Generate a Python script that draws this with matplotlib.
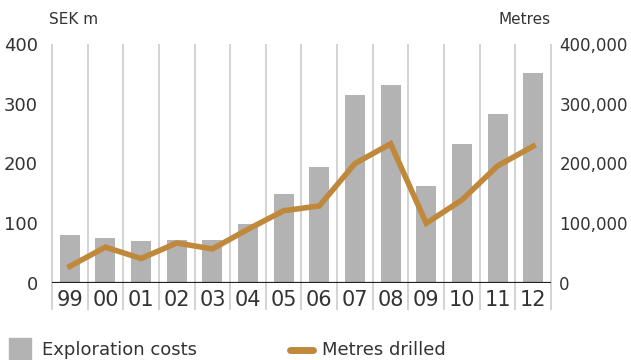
import matplotlib
matplotlib.use("Agg")
import numpy as np
import matplotlib.pyplot as plt
from matplotlib.patches import Rectangle
from matplotlib.lines import Line2D
from matplotlib.ticker import FuncFormatter

# data
years = ["99", "00", "01", "02", "03", "04", "05", "06", "07", "08", "09", "10", "11", "12"]
exploration_costs = [80, 75, 70, 72, 72, 99, 149, 194, 315, 331, 162, 233, 283, 351]
metres_drilled = [28000, 60000, 41000, 67000, 57000, 90000, 121000, 129000,
                  200000, 233000, 100000, 139000, 196000, 229000]

BAR = "#b3b3b3"
LINE = "#c0883a"
TXT = "#333333"
SEP = "#c8c8c8"

W, H = 631, 360
fig = plt.figure(figsize=(W / 100, H / 100), dpi=100)
plt.rcParams['font.family'] = ['DejaVu Sans']

ax = fig.add_axes([52 / W, (H - 283) / H, 499 / W, 239 / H])
x = np.arange(len(years))

ax.bar(x, exploration_costs, width=0.56, color=BAR, zorder=2)
ax.set_xlim(-0.5, len(years) - 0.5)
ax.set_ylim(0, 400)

# category separators running down past the year labels
for b in np.arange(-0.5, len(years), 1.0):
    ax.vlines(b, -45, 400, color=SEP, lw=1.1, clip_on=False, zorder=1)
ax.axhline(0, color="#222222", lw=1.6, zorder=3)

for s in ax.spines.values():
    s.set_visible(False)
ax.set_yticks([0, 100, 200, 300, 400])
ax.tick_params(axis="y", length=0, pad=10, labelsize=13, labelcolor=TXT)
ax.set_xticks(x)
ax.set_xticklabels(years)
ax.tick_params(axis="x", length=0, pad=5, labelsize=15, labelcolor=TXT)

ax2 = ax.twinx()
ax2.plot(x, metres_drilled, color=LINE, lw=4, solid_joinstyle="miter", zorder=4)
ax2.set_ylim(0, 400000)
ax2.set_yticks([0, 100000, 200000, 300000, 400000])
ax2.yaxis.set_major_formatter(FuncFormatter(lambda v, p: f"{int(v):,}"))
for s in ax2.spines.values():
    s.set_visible(False)
ax2.tick_params(axis="y", length=0, pad=6, labelsize=12, labelcolor=TXT)

fig.text(49 / W, 1 - 20 / H, "SEK m", fontsize=11, color=TXT, va="center", ha="left")
fig.text(551 / W, 1 - 20 / H, "Metres", fontsize=11, color=TXT, va="center", ha="right")

# legend
fig.patches.append(Rectangle((9 / W, 0), 22 / W, 22 / H, transform=fig.transFigure,
                             color=BAR))
fig.text(42 / W, 1 - 350 / H, "Exploration costs", fontsize=13, color=TXT, va="center")
fig.lines.append(Line2D([290 / W, 313 / W], [1 - 350 / H] * 2, transform=fig.transFigure,
                        color=LINE, lw=5, solid_capstyle="round"))
fig.text(322 / W, 1 - 350 / H, "Metres drilled", fontsize=13, color=TXT, va="center")

fig.savefig("out.png", dpi=100)
